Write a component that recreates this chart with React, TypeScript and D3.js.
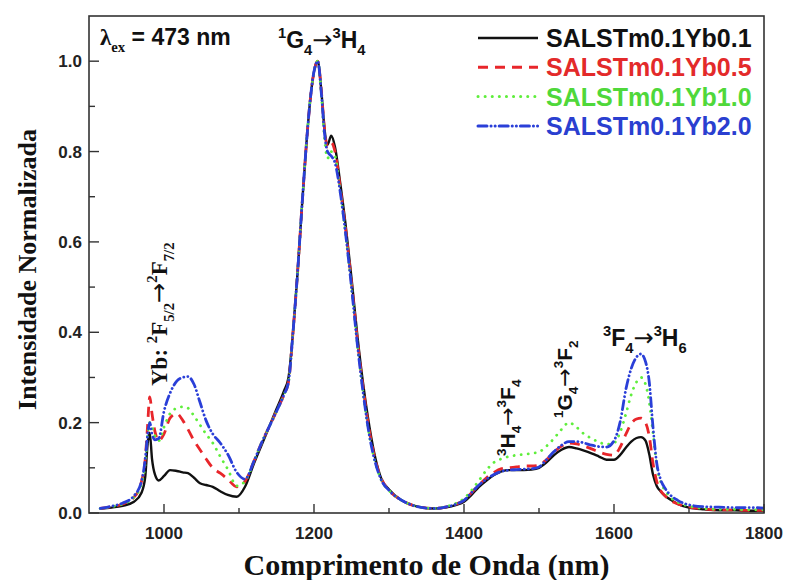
import React from 'react';
import * as d3 from 'd3';

// Emission spectra (normalised) for the four Yb concentrations, sampled on a common wavelength grid (nm)
const wavelengths = [
  915, 930, 945, 960, 970, 975, 978, 981, 984, 988, 993, 1000, 1008, 1017, 1025, 1032, 1040, 1048, 1056, 1065,
  1075, 1085, 1097, 1108, 1120, 1130, 1140, 1150, 1160, 1166, 1172, 1178, 1184, 1190, 1196, 1201, 1205, 1210, 1214, 1218,
  1223, 1228, 1235, 1242, 1250, 1258, 1266, 1274, 1282, 1290, 1300, 1315, 1330, 1345, 1360, 1375, 1390, 1400, 1410, 1420,
  1430, 1440, 1450, 1460, 1470, 1480, 1490, 1500, 1510, 1520, 1530, 1540, 1550, 1560, 1570, 1580, 1590, 1600, 1608, 1616,
  1623, 1630, 1636, 1642, 1647, 1652, 1657, 1662, 1668, 1675, 1685, 1700, 1720, 1740, 1760, 1780, 1800,
];

const yb01 = [
  0.010, 0.012, 0.016, 0.025, 0.045, 0.08, 0.15, 0.178, 0.12, 0.085, 0.072, 0.082, 0.095, 0.093, 0.09, 0.088, 0.078, 0.066, 0.062, 0.058,
  0.048, 0.040, 0.036, 0.058, 0.11, 0.15, 0.19, 0.23, 0.27, 0.30, 0.40, 0.53, 0.68, 0.82, 0.93, 0.985, 1.0, 0.93, 0.85, 0.815,
  0.835, 0.81, 0.73, 0.64, 0.52, 0.39, 0.28, 0.19, 0.12, 0.075, 0.052, 0.03, 0.018, 0.012, 0.010, 0.012, 0.018, 0.025, 0.04, 0.058,
  0.072, 0.084, 0.092, 0.095, 0.095, 0.095, 0.096, 0.1, 0.112, 0.128, 0.14, 0.146, 0.143, 0.138, 0.132, 0.125, 0.118, 0.118, 0.128, 0.145,
  0.158, 0.166, 0.168, 0.16, 0.13, 0.085, 0.06, 0.048, 0.038, 0.03, 0.02, 0.012, 0.008, 0.006, 0.006, 0.005, 0.005,
];

const yb05 = [
  0.010, 0.014, 0.02, 0.035, 0.07, 0.12, 0.19, 0.257, 0.22, 0.18, 0.16, 0.175, 0.21, 0.22, 0.205, 0.185, 0.16, 0.14, 0.12, 0.1,
  0.088, 0.075, 0.058, 0.07, 0.115, 0.155, 0.19, 0.225, 0.262, 0.29, 0.40, 0.53, 0.68, 0.82, 0.93, 0.985, 1.0, 0.93, 0.85, 0.81,
  0.82, 0.80, 0.72, 0.63, 0.51, 0.38, 0.27, 0.18, 0.115, 0.075, 0.05, 0.03, 0.018, 0.012, 0.010, 0.013, 0.02, 0.028, 0.045, 0.062,
  0.078, 0.09, 0.098, 0.1, 0.102, 0.104, 0.104, 0.106, 0.118, 0.135, 0.148, 0.155, 0.153, 0.148, 0.142, 0.135, 0.13, 0.128, 0.145, 0.175,
  0.198, 0.208, 0.21, 0.2, 0.17, 0.11, 0.07, 0.05, 0.038, 0.028, 0.02, 0.013, 0.009, 0.007, 0.007, 0.006, 0.006,
];

const yb10 = [
  0.010, 0.014, 0.02, 0.035, 0.065, 0.11, 0.17, 0.2, 0.19, 0.17, 0.16, 0.19, 0.22, 0.232, 0.235, 0.232, 0.215, 0.195, 0.175, 0.155,
  0.125, 0.097, 0.06, 0.07, 0.115, 0.155, 0.19, 0.225, 0.262, 0.29, 0.40, 0.53, 0.68, 0.82, 0.93, 0.985, 1.0, 0.92, 0.83, 0.785,
  0.80, 0.79, 0.71, 0.62, 0.50, 0.37, 0.26, 0.17, 0.11, 0.072, 0.05, 0.03, 0.018, 0.012, 0.01, 0.014, 0.022, 0.032, 0.05, 0.072,
  0.095, 0.112, 0.12, 0.125, 0.128, 0.13, 0.132, 0.135, 0.148, 0.165, 0.185, 0.2, 0.19, 0.175, 0.165, 0.157, 0.152, 0.155, 0.178, 0.22,
  0.262, 0.29, 0.30, 0.285, 0.245, 0.177, 0.105, 0.07, 0.05, 0.035, 0.024, 0.015, 0.01, 0.008, 0.008, 0.007, 0.007,
];

const yb20 = [
  0.010, 0.015, 0.022, 0.038, 0.07, 0.12, 0.17, 0.2, 0.175, 0.162, 0.165, 0.225, 0.265, 0.292, 0.30, 0.302, 0.285, 0.245, 0.205, 0.175,
  0.155, 0.13, 0.09, 0.075, 0.115, 0.155, 0.19, 0.225, 0.262, 0.29, 0.40, 0.53, 0.68, 0.82, 0.93, 0.985, 1.0, 0.925, 0.84, 0.80,
  0.79, 0.775, 0.71, 0.62, 0.50, 0.37, 0.26, 0.17, 0.11, 0.072, 0.05, 0.03, 0.018, 0.012, 0.01, 0.013, 0.02, 0.028, 0.045, 0.062,
  0.075, 0.085, 0.092, 0.095, 0.096, 0.097, 0.098, 0.102, 0.118, 0.136, 0.15, 0.158, 0.158, 0.155, 0.15, 0.147, 0.146, 0.16, 0.2, 0.275,
  0.32, 0.345, 0.352, 0.335, 0.29, 0.19, 0.11, 0.075, 0.055, 0.04, 0.028, 0.018, 0.014, 0.013, 0.012, 0.012, 0.011,
];

const seriesNames = ['SALSTm0.1Yb0.1', 'SALSTm0.1Yb0.5', 'SALSTm0.1Yb1.0', 'SALSTm0.1Yb2.0'];
const seriesValues = [yb01, yb05, yb10, yb20];

const xTicks = [1000, 1200, 1400, 1600, 1800];
const xMinorTicks = [1100, 1300, 1500, 1700];
const yTicks = [0, 0.2, 0.4, 0.6, 0.8, 1.0];
const yMinorTicks = [0.1, 0.3, 0.5, 0.7, 0.9];

const W = 787;
const H = 580;
const M = { left: 89, right: 764, top: 16, bottom: 513 };

const SANS = '"Liberation Sans", Arial, Helvetica, sans-serif';
const SERIF = '"Liberation Serif", "Times New Roman", Times, serif';
const ARROW = '"DejaVu Sans", sans-serif';

const styles = [
  { color: '#111111', text: '#111111', dash: null as string | null, cap: 'butt' },
  { color: '#e8262b', text: '#e32a2a', dash: '10,7', cap: 'butt' },
  { color: '#5fee3c', text: '#4fd83a', dash: '0.1,7', cap: 'round' },
  { color: '#2a3fd8', text: '#2a3fd0', dash: '9,4,0.1,4,0.1,4', cap: 'round' },
];

type Part = { t: string; k?: 'sup' | 'sub' | 'arrow' };

// Renders text with super/subscripts by shifting tspans relative to the baseline
function Term({ parts, fs, family }: { parts: Part[]; fs: number; family: string }) {
  let cur = 0;
  return (
    <>
      {parts.map((p, i) => {
        const target = p.k === 'sup' ? -0.42 * fs : p.k === 'sub' ? 0.3 * fs : 0;
        const dy = target - cur;
        cur = target;
        const small = p.k === 'sup' || p.k === 'sub';
        return (
          <tspan
            key={i}
            dy={dy}
            fontSize={small ? fs * 0.64 : p.k === 'arrow' ? fs * 1.05 : fs}
            fontFamily={p.k === 'arrow' ? ARROW : family}
            fontWeight={p.k === 'arrow' ? 'normal' : 'bold'}
          >
            {p.t}
          </tspan>
        );
      })}
    </>
  );
}

const arrow: Part = { t: '→', k: 'arrow' };

export default function App() {
  const x = d3.scaleLinear().domain([900, 1800]).range([M.left, M.right]);
  const y = d3.scaleLinear().domain([0, 1.1]).range([M.bottom, M.top]);

  const line = d3
    .line<number>()
    .x((_, i) => x(wavelengths[i]))
    .y((v) => y(v))
    .curve(d3.curveMonotoneX);

  const axisColor = '#333333';

  return (
    <svg width={W} height={H} style={{ position: 'absolute', left: 0, top: 0, background: '#fff' }}>
      <defs>
        <clipPath id="plotArea">
          <rect x={M.left} y={M.top} width={M.right - M.left} height={M.bottom - M.top} />
        </clipPath>
      </defs>

      {/* spectra */}
      <g clipPath="url(#plotArea)" fill="none">
        {seriesValues.map((vals, i) => (
          <path
            key={seriesNames[i]}
            d={line(vals) ?? ''}
            stroke={styles[i].color}
            strokeWidth={i === 0 ? 2.4 : 2.8}
            strokeDasharray={styles[i].dash ?? undefined}
            strokeLinecap={styles[i].cap as any}
            strokeLinejoin="round"
          />
        ))}
      </g>

      {/* frame */}
      <rect
        x={M.left}
        y={M.top}
        width={M.right - M.left}
        height={M.bottom - M.top}
        fill="none"
        stroke={axisColor}
        strokeWidth={1.6}
      />

      {/* x axis ticks */}
      {xTicks.map((t) => (
        <g key={'xt' + t}>
          <line x1={x(t)} x2={x(t)} y1={M.bottom} y2={M.bottom - 9} stroke={axisColor} strokeWidth={1.4} />
          <text
            x={x(t)}
            y={539}
            textAnchor="middle"
            fontFamily={SANS}
            fontWeight="bold"
            fontSize={17}
            fill="#222"
          >
            {t}
          </text>
        </g>
      ))}
      {xMinorTicks.map((t) => (
        <line key={'xm' + t} x1={x(t)} x2={x(t)} y1={M.bottom} y2={M.bottom - 5} stroke={axisColor} strokeWidth={1.4} />
      ))}

      {/* y axis ticks */}
      {yTicks.map((t) => (
        <g key={'yt' + t}>
          <line x1={M.left} x2={M.left + 10} y1={y(t)} y2={y(t)} stroke={axisColor} strokeWidth={1.4} />
          <text
            x={82}
            y={y(t)}
            dy="0.36em"
            textAnchor="end"
            fontFamily={SANS}
            fontWeight="bold"
            fontSize={17}
            fill="#222"
          >
            {d3.format('.1f')(t)}
          </text>
        </g>
      ))}
      {yMinorTicks.map((t) => (
        <line key={'ym' + t} x1={M.left} x2={M.left + 6} y1={y(t)} y2={y(t)} stroke={axisColor} strokeWidth={1.4} />
      ))}

      {/* axis titles */}
      <text
        x={(M.left + M.right) / 2}
        y={575}
        textAnchor="middle"
        fontFamily={SERIF}
        fontWeight="bold"
        fontSize={30}
        fill="#111"
      >
        Comprimento de Onda (nm)
      </text>
      <text
        transform={`translate(36,${(M.top + M.bottom) / 2 + 5}) rotate(-90)`}
        textAnchor="middle"
        fontFamily={SERIF}
        fontWeight="bold"
        fontSize={26}
        fill="#111"
      >
        Intensidade Normalizada
      </text>

      {/* excitation wavelength */}
      <text x={100} y={45} fill="#111">
        <Term fs={23} family={SERIF} parts={[{ t: 'λ' }, { t: 'ex', k: 'sub' }]} />
        <tspan dy={-0.3 * 23} fontFamily={SANS} fontWeight="bold" fontSize={23}> = 473 nm</tspan>
      </text>

      {/* transition labels */}
      <text x={278} y={48} fill="#111">
        <Term
          fs={23}
          family={SANS}
          parts={[{ t: '1', k: 'sup' }, { t: 'G' }, { t: '4', k: 'sub' }, arrow, { t: '3', k: 'sup' }, { t: 'H' }, { t: '4', k: 'sub' }]}
        />
      </text>

      <text transform="translate(167,386) rotate(-90)" fill="#111">
        <Term
          fs={23}
          family={SERIF}
          parts={[
            { t: 'Yb: ' },
            { t: '2', k: 'sup' },
            { t: 'F' },
            { t: '5/2', k: 'sub' },
            arrow,
            { t: '2', k: 'sup' },
            { t: 'F' },
            { t: '7/2', k: 'sub' },
          ]}
        />
      </text>

      <text transform="translate(515,456) rotate(-90)" fill="#111">
        <Term
          fs={21}
          family={SANS}
          parts={[{ t: '3', k: 'sup' }, { t: 'H' }, { t: '4', k: 'sub' }, arrow, { t: '3', k: 'sup' }, { t: 'F' }, { t: '4', k: 'sub' }]}
        />
      </text>

      <text transform="translate(572,418) rotate(-90)" fill="#111">
        <Term
          fs={21}
          family={SANS}
          parts={[{ t: '1', k: 'sup' }, { t: 'G' }, { t: '4', k: 'sub' }, arrow, { t: '3', k: 'sup' }, { t: 'F' }, { t: '2', k: 'sub' }]}
        />
      </text>

      <text x={603} y={346} fill="#111">
        <Term
          fs={23}
          family={SANS}
          parts={[{ t: '3', k: 'sup' }, { t: 'F' }, { t: '4', k: 'sub' }, arrow, { t: '3', k: 'sup' }, { t: 'H' }, { t: '6', k: 'sub' }]}
        />
      </text>

      {/* legend */}
      {seriesNames.map((name, i) => {
        const cy = 38 + i * 29.3;
        return (
          <g key={'lg' + name}>
            <line
              x1={478}
              x2={538}
              y1={cy}
              y2={cy}
              stroke={styles[i].color}
              strokeWidth={i === 0 ? 2.6 : 3}
              strokeDasharray={styles[i].dash ?? undefined}
              strokeLinecap={styles[i].cap as any}
            />
            <text
              x={546}
              y={cy}
              dy="0.36em"
              fontFamily={SANS}
              fontWeight="bold"
              fontSize={25}
              fill={styles[i].text}
            >
              {name}
            </text>
          </g>
        );
      })}
    </svg>
  );
}
